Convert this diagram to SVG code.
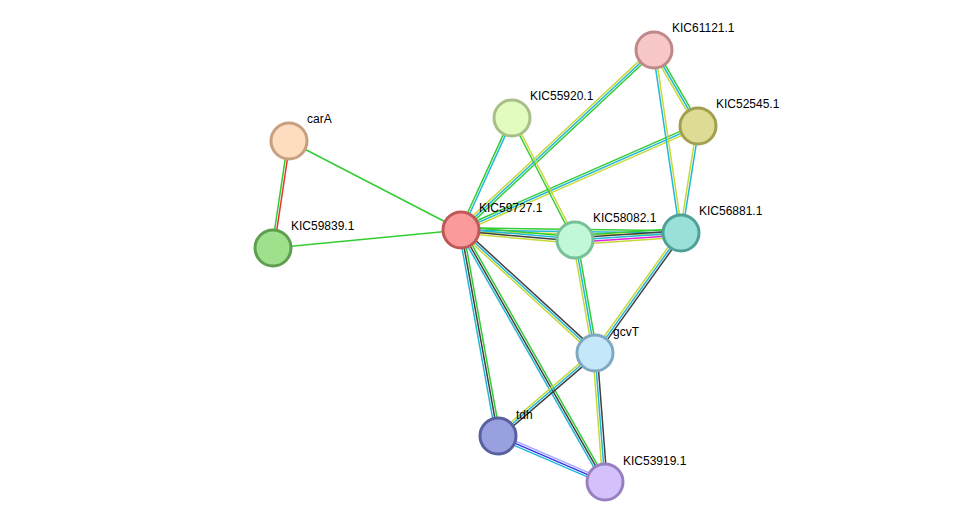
<svg xmlns="http://www.w3.org/2000/svg" width="975" height="528" viewBox="0 0 975 528">
<style>
line{stroke-width:1.5}
.g{stroke:#33cc33}.r{stroke:#ee3333}.c{stroke:#22b8d8}.y{stroke:#c8d838}.k{stroke:#404040}.m{stroke:#dd22dd}.b{stroke:#3333ee}.l{stroke:#aaaaff}
circle{stroke-width:3}
text{font-family:"Liberation Sans",Arial,sans-serif;font-size:12px;fill:#000}
</style>
<rect width="975" height="528" fill="#fff"/>
<g id="edges">
<g transform="translate(289,141) rotate(98.5)"><line x2="108" y1="-1.1" y2="-1.1" class="r"/><line x2="108" y1="1.1" y2="1.1" class="g"/></g>
<line x1="289" y1="141" x2="461" y2="230" class="g"/>
<line x1="273" y1="248" x2="461" y2="230" class="g"/>
<g transform="translate(461,230) rotate(-65.5)"><line x2="123" y1="-1.1" y2="-1.1" class="g"/><line x2="123" y1="1.1" y2="1.1" class="c"/></g>
<g transform="translate(461,230) rotate(-43)"><line x2="264" y1="-2.2" y2="-2.2" class="y"/><line x2="264" class="c"/><line x2="264" y1="2.2" y2="2.2" class="g"/></g>
<g transform="translate(461,230) rotate(-23.7)"><line x2="259" y1="-2.2" y2="-2.2" class="g"/><line x2="259" class="c"/><line x2="259" y1="2.2" y2="2.2" class="y"/></g>
<g transform="translate(461,230) rotate(0.8)"><line x2="220" y1="-2.2" y2="-2.2" class="g"/><line x2="220" class="c"/><line x2="220" y1="2.2" y2="2.2" class="y"/></g>
<g transform="translate(461,230) rotate(5)"><line x2="114" y1="-3.3" y2="-3.3" class="g"/><line x2="114" y1="-1.1" y2="-1.1" class="c"/><line x2="114" y1="1.1" y2="1.1" class="k"/><line x2="114" y1="3.3" y2="3.3" class="y"/></g>
<g transform="translate(461,230) rotate(42.5)"><line x2="182" y1="-2.2" y2="-2.2" class="k"/><line x2="182" class="c"/><line x2="182" y1="2.2" y2="2.2" class="y"/></g>
<g transform="translate(461,230) rotate(79.8)"><line x2="209" y1="-2.2" y2="-2.2" class="g"/><line x2="209" class="k"/><line x2="209" y1="2.2" y2="2.2" class="c"/></g>
<g transform="translate(461,230) rotate(60.3)"><line x2="290" y1="-2.2" y2="-2.2" class="g"/><line x2="290" class="k"/><line x2="290" y1="2.2" y2="2.2" class="c"/></g>
<g transform="translate(512,118) rotate(62.7)"><line x2="137" y1="-1.1" y2="-1.1" class="y"/><line x2="137" y1="1.1" y2="1.1" class="g"/></g>
<g transform="translate(654,50) rotate(59.9)"><line x2="88" y1="-2.2" y2="-2.2" class="g"/><line x2="88" class="c"/><line x2="88" y1="2.2" y2="2.2" class="y"/></g>
<g transform="translate(654,50) rotate(81.6)"><line x2="185" y1="-1.1" y2="-1.1" class="y"/><line x2="185" y1="1.1" y2="1.1" class="c"/></g>
<g transform="translate(698,126) rotate(99)"><line x2="108" y1="-1.1" y2="-1.1" class="c"/><line x2="108" y1="1.1" y2="1.1" class="y"/></g>
<g transform="translate(575,240) rotate(-3.8)"><line x2="106" y1="-4.4" y2="-4.4" class="g"/><line x2="106" y1="-2.2" y2="-2.2" class="k"/><line x2="106" class="c"/><line x2="106" y1="2.2" y2="2.2" class="m"/><line x2="106" y1="4.4" y2="4.4" class="y"/></g>
<g transform="translate(575,240) rotate(80)"><line x2="115" y1="-2.2" y2="-2.2" class="g"/><line x2="115" class="c"/><line x2="115" y1="2.2" y2="2.2" class="y"/></g>
<g transform="translate(681,233) rotate(125.6)"><line x2="148" y1="-2.2" y2="-2.2" class="k"/><line x2="148" class="c"/><line x2="148" y1="2.2" y2="2.2" class="y"/></g>
<g transform="translate(595,353) rotate(139.4)"><line x2="128" y1="-2.2" y2="-2.2" class="k"/><line x2="128" class="c"/><line x2="128" y1="2.2" y2="2.2" class="y"/></g>
<g transform="translate(595,353) rotate(85.6)"><line x2="129" y1="-2.2" y2="-2.2" class="k"/><line x2="129" class="c"/><line x2="129" y1="2.2" y2="2.2" class="y"/></g>
<g transform="translate(498,436) rotate(23.3)"><line x2="116" y1="-2.2" y2="-2.2" class="l"/><line x2="116" class="b"/><line x2="116" y1="2.2" y2="2.2" class="c"/></g>
</g>
<g id="carA"><circle cx="289" cy="141" r="18" fill="#fddcc0" stroke="#c8a080"/><text x="307" y="123">carA</text></g>
<g id="KIC59839.1"><circle cx="273" cy="248" r="18" fill="#9ee08c" stroke="#5f9e50"/><text x="291" y="230">KIC59839.1</text></g>
<g id="KIC59727.1"><circle cx="461" cy="230" r="18" fill="#fa9a9a" stroke="#c05858"/><text x="479" y="212">KIC59727.1</text></g>
<g id="KIC55920.1"><circle cx="512" cy="118" r="18" fill="#e2fcc0" stroke="#a8c088"/><text x="530" y="100">KIC55920.1</text></g>
<g id="KIC61121.1"><circle cx="654" cy="50" r="18" fill="#f8c8c8" stroke="#c08888"/><text x="672" y="32">KIC61121.1</text></g>
<g id="KIC52545.1"><circle cx="698" cy="126" r="18" fill="#dedc94" stroke="#a0a050"/><text x="716" y="108">KIC52545.1</text></g>
<g id="KIC58082.1"><circle cx="575" cy="240" r="18" fill="#c0f8d8" stroke="#78c098"/><text x="593" y="222">KIC58082.1</text></g>
<g id="KIC56881.1"><circle cx="681" cy="233" r="18" fill="#98e0d8" stroke="#50a098"/><text x="699" y="215">KIC56881.1</text></g>
<g id="gcvT"><circle cx="595" cy="353" r="18" fill="#c4e8fa" stroke="#80a8c0"/><text x="613" y="336">gcvT</text></g>
<g id="tdh"><circle cx="498" cy="436" r="18" fill="#98a0e0" stroke="#5860a0"/><text x="516" y="419">tdh</text></g>
<g id="KIC53919.1"><circle cx="605" cy="482" r="18" fill="#d4c0fa" stroke="#9880c0"/><text x="623" y="465">KIC53919.1</text></g>
</svg>
